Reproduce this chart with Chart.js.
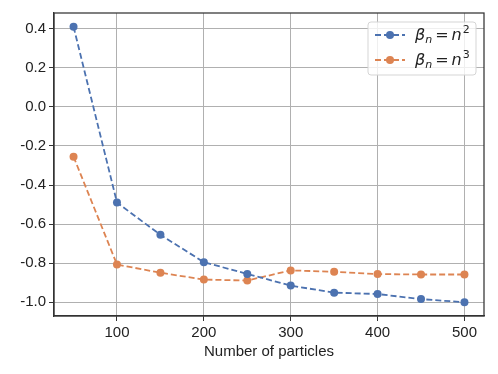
<!DOCTYPE html>
<html>
<head>
<meta charset="utf-8">
<script src="https://cdn.jsdelivr.net/npm/chart.js@4.4.1/dist/chart.umd.min.js"></script>
<style>
  html, body { margin: 0; padding: 0; background: #fff; }
  #wrap { width: 498px; height: 374px; }
</style>
</head>
<body>
<div id="wrap"><canvas id="myChart" width="498" height="374"></canvas></div>
<script>
const particles = [50, 100, 150, 200, 250, 300, 350, 400, 450, 500];
const betaSquare = [0.41, -0.49, -0.655, -0.795, -0.855, -0.915, -0.951, -0.958, -0.984, -1.0];
const betaCube = [-0.255, -0.807, -0.849, -0.884, -0.889, -0.837, -0.844, -0.856, -0.858, -0.858];
const xTicks = [100, 200, 300, 400, 500];
const yTicks = [-1.0, -0.8, -0.6, -0.4, -0.2, 0.0, 0.2, 0.4];
const legendExps = ['2', '3'];

const FONT = "'Liberation Sans', Arial, sans-serif";

function toPoints(values) {
    return particles.map((x, i) => ({ x: x, y: values[i] }));
}

// frame around the plot + legend box
const framePlugin = {
    id: 'frame',
    afterDraw(chart) {
        const ctx = chart.ctx;
        const a = chart.chartArea;
        ctx.save();
        ctx.strokeStyle = '#333';
        ctx.lineWidth = 1.25;
        ctx.strokeRect(a.left, a.top, a.right - a.left, a.bottom - a.top);

        // legend
        const bx = 368, by = 22, bw = 108, bh = 53;
        ctx.beginPath();
        ctx.roundRect(bx, by, bw, bh, 3);
        ctx.fillStyle = 'rgba(255,255,255,0.8)';
        ctx.fill();
        ctx.strokeStyle = '#d5d5d5';
        ctx.lineWidth = 1;
        ctx.stroke();

        chart.data.datasets.forEach((ds, i) => {
            const y = 35 + i * 25;
            ctx.strokeStyle = ds.borderColor;
            ctx.lineWidth = 1.8;
            ctx.setLineDash([6, 3]);
            ctx.beginPath();
            ctx.moveTo(375, y);
            ctx.lineTo(405, y);
            ctx.stroke();
            ctx.setLineDash([]);
            ctx.fillStyle = ds.backgroundColor;
            ctx.beginPath();
            ctx.arc(390, y, 4, 0, Math.PI * 2);
            ctx.fill();

            // label: beta_n = n^k
            ctx.fillStyle = '#222';
            ctx.textBaseline = 'alphabetic';
            ctx.textAlign = 'left';
            let x = 415;
            const base = y + 5;
            ctx.font = "italic 16px 'DejaVu Sans', sans-serif";
            ctx.fillText('β', x, base);
            x += ctx.measureText('β').width;
            ctx.font = "italic 11px 'DejaVu Sans', sans-serif";
            ctx.fillText('n', x, base + 3);
            x += ctx.measureText('n').width + 3;
            ctx.font = "16px 'DejaVu Sans', sans-serif";
            ctx.fillText('=', x, base);
            x += ctx.measureText('=').width + 3;
            ctx.font = "italic 16px 'DejaVu Sans', sans-serif";
            ctx.fillText('n', x, base);
            x += ctx.measureText('n').width + 1;
            ctx.font = "11px 'DejaVu Sans', sans-serif";
            ctx.fillText(legendExps[i], x, base - 7);
        });
        ctx.restore();
    }
};

document.addEventListener('DOMContentLoaded', () => {
    const ctx = document.getElementById('myChart').getContext('2d');

    const data = {
        datasets: [{
            label: 'beta_n = n^2',
            data: toPoints(betaSquare),
            borderColor: '#4C72B0',
            backgroundColor: '#4C72B0',
            borderWidth: 1.8,
            borderDash: [6, 3],
            pointRadius: 4,
            pointBorderWidth: 0,
            tension: 0
        }, {
            label: 'beta_n = n^3',
            data: toPoints(betaCube),
            borderColor: '#DD8452',
            backgroundColor: '#DD8452',
            borderWidth: 1.8,
            borderDash: [6, 3],
            pointRadius: 4,
            pointBorderWidth: 0,
            tension: 0
        }]
    };

    const options = {
        responsive: false,
        animation: false,
        layout: { padding: { top: 13, right: 14, left: 0, bottom: 0 } },
        plugins: {
            legend: { display: false },
            tooltip: { enabled: false }
        },
        scales: {
            x: {
                type: 'linear',
                min: 27.5,
                max: 522.5,
                afterBuildTicks: (axis) => { axis.ticks = xTicks.map(v => ({ value: v })); },
                afterFit: (axis) => { axis.height = 58; },
                grid: { color: '#b0b0b0', lineWidth: 1, tickColor: '#333', tickLength: 5, drawOnChartArea: true },
                border: { display: true, color: '#333', width: 1.25 },
                ticks: { color: '#222', font: { family: FONT, size: 15 }, padding: 3, maxRotation: 0 },
                title: { display: true, text: 'Number of particles', color: '#222', font: { family: FONT, size: 15 }, padding: { top: 0, bottom: 13 } }
            },
            y: {
                type: 'linear',
                min: -1.0705,
                max: 0.4805,
                afterBuildTicks: (axis) => { axis.ticks = yTicks.map(v => ({ value: v })); },
                afterFit: (axis) => { axis.width = 54; },
                grid: { color: '#b0b0b0', lineWidth: 1, tickColor: '#333', tickLength: 5 },
                border: { display: true, color: '#333', width: 1.25 },
                ticks: {
                    color: '#222',
                    font: { family: FONT, size: 15 },
                    padding: 3,
                    callback: (v) => Number(v).toFixed(1)
                }
            }
        }
    };

    new Chart(ctx, {
        type: 'line',
        data: data,
        options: options,
        plugins: [framePlugin]
    });
});
</script>
</body>
</html>
